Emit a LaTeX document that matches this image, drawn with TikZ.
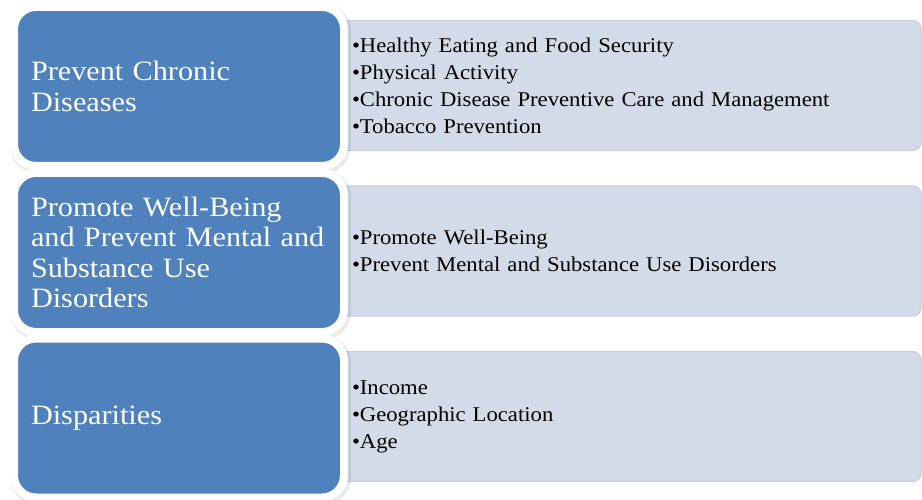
\documentclass[tikz,border=0pt]{standalone}
\usepackage{fontspec}
\setmainfont{Liberation Serif}[FakeStretch=1.08]
\usepackage{tikz}
\usetikzlibrary{positioning}
\definecolor{areablue}{HTML}{4F81BD}
\definecolor{listgrey}{HTML}{D3DAE8}
\definecolor{listedge}{HTML}{C8D0E2}
\tikzset{
  area/.style = {rectangle, rounded corners=22pt, fill=areablue, draw=white, line width=8pt,
    minimum width=330pt, minimum height=159pt, text width=296pt, inner xsep=17pt,
    align=left, text=white, font=\fontsize{28}{30.5}\selectfont,
    preaction={draw=black, opacity=.08, line width=11pt, transform canvas={xshift=1.5pt, yshift=-2pt}}},
  list/.style = {rectangle, rounded corners=8pt, fill=listgrey, draw=listedge, line width=1.2pt,
    minimum width=591pt, minimum height=130pt, text width=547pt, inner xsep=22pt,
    align=left, text=black, font=\fontsize{21}{27}\selectfont}
}

\begin{document}
\begin{tikzpicture}[x=1pt, y=-1pt]
\useasboundingbox (0,0) rectangle (922,500);
% lists behind the blue areas
\node [list] (chronic-list) at (625.5, 85.5) {\textbullet Healthy Eating and Food Security\\
  \textbullet Physical Activity\\
  \textbullet Chronic Disease Preventive Care and Management\\
  \textbullet Tobacco Prevention};
\node [list] (wellbeing-list) at (625.5, 251) {\textbullet Promote Well-Being\\
  \textbullet Prevent Mental and Substance Use Disorders};
\node [list] (disparity-list) at (625.5, 416.5) {\textbullet Income\\
  \textbullet Geographic Location\\
  \textbullet Age};
% the three areas
\node [area] (chronic) at (179, 86.5) {Prevent Chronic\\Diseases};
\node [area] (wellbeing) at (179, 252.5) {Promote Well-Being\\and Prevent Mental and\\Substance Use\\Disorders};
\node [area] (disparity) at (179, 418) {Disparities};
\end{tikzpicture}
\end{document}
